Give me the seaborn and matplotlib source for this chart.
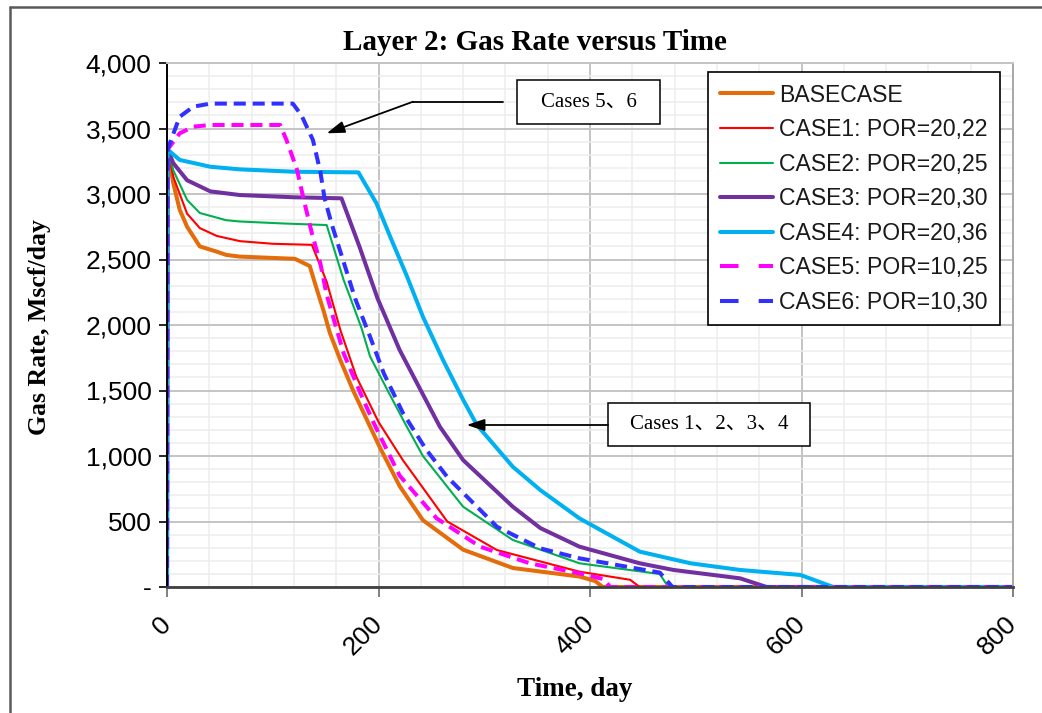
import matplotlib
matplotlib.use("Agg")
import matplotlib.pyplot as plt
from matplotlib.ticker import MultipleLocator, FuncFormatter
from matplotlib.lines import Line2D
from matplotlib.patches import Rectangle
import seaborn as sns

# ---- production data: time (day) and gas rate (Mscf/day) per case ----
t_base = [0, 0.5, 6, 12, 19, 31, 47, 56, 69, 100, 121, 135, 141, 148, 154, 164, 176, 192, 201,
          220, 242, 280, 327, 390, 405, 412, 800]
q_base = [0, 3340, 3080, 2880, 2750, 2600, 2560, 2535, 2522, 2512, 2505, 2450, 2290, 2110, 1940,
          1730, 1500, 1225, 1070, 770, 510, 285, 145, 80, 45, 0, 0]

t_case1 = [0, 0.5, 6, 19, 31, 47, 69, 100, 137, 151, 164, 179, 200, 223, 265, 312, 390,
           438, 447, 800]
q_case1 = [0, 3340, 3130, 2850, 2740, 2680, 2640, 2620, 2612, 2330, 1960, 1606, 1260,
           969, 500, 282, 117, 55, 0, 0]

t_case2 = [0, 0.5, 6, 19, 31, 56, 69, 110, 151, 167, 173, 184, 192, 208, 225, 242, 280, 327,
           390, 466, 474, 800]
q_case2 = [0, 3340, 3180, 2955, 2855, 2800, 2790, 2775, 2763, 2344, 2216, 1975, 1760, 1510,
           1250, 1000, 613, 359, 181, 99, 0, 0]

t_case3 = [0, 0.5, 6, 19, 41, 69, 120, 165, 182, 199, 220, 242, 258, 280, 327, 353, 390, 447,
           479, 542, 567, 800]
q_case3 = [0, 3340, 3235, 3105, 3020, 2992, 2975, 2967, 2598, 2205, 1809, 1470, 1224, 969,
           613, 450, 308, 181, 130, 66, 0, 0]

t_case4 = [0, 0.5, 12, 41, 69, 120, 181, 198, 211, 227, 242, 261, 280, 293, 327, 353, 390,
           447, 495, 542, 599, 630, 800]
q_case4 = [0, 3340, 3260, 3208, 3188, 3170, 3165, 2930, 2675, 2370, 2063, 1733, 1430, 1237,
           918, 740, 524, 270, 181, 130, 92, 0, 0]

t_case5 = [0, 0.5, 12, 25, 41, 107, 113, 123, 129, 137, 145, 151, 167, 183, 195, 201, 220,
           255, 296, 343, 390, 413, 419, 800]
q_case5 = [0, 3340, 3463, 3514, 3527, 3527, 3412, 3183, 2967, 2700, 2471, 2230, 1784, 1478,
           1260, 1160, 850, 524, 308, 181, 104, 60, 0, 0]

t_case6 = [0, 0.5, 12, 25, 41, 119, 127, 138, 145, 149, 156, 178, 192, 205, 223, 245, 265,
           312, 353, 390, 466, 478, 800]
q_case6 = [0, 3340, 3590, 3667, 3690, 3690, 3603, 3412, 3170, 2967, 2763, 2200, 1911, 1631,
           1330, 1050, 840, 460, 295, 219, 110, 0, 0]

labels = ["BASECASE", "CASE1: POR=20,22", "CASE2: POR=20,25", "CASE3: POR=20,30",
          "CASE4: POR=20,36", "CASE5: POR=10,25", "CASE6: POR=10,30"]
x_ticks = [0, 200, 400, 600, 800]
y_ticks = [0, 500, 1000, 1500, 2000, 2500, 3000, 3500, 4000]

series = [(t_base, q_base), (t_case1, q_case1), (t_case2, q_case2), (t_case3, q_case3),
          (t_case4, q_case4), (t_case5, q_case5), (t_case6, q_case6)]
colors = ["#E46C0A", "#FF0000", "#00B050", "#7030A0", "#00B0F0", "#FF00FF", "#3030FF"]
widths = [2.9, 1.5, 1.5, 2.9, 2.9, 2.9, 2.9]
dashed = [False, False, False, False, False, True, True]

sns.set_theme(style="white")
plt.rcParams["font.family"] = ["Liberation Sans", "DejaVu Sans"]

W, H = 1042, 713
fig = plt.figure(figsize=(W / 100, H / 100), dpi=100)
fig.patch.set_facecolor("white")
ax = fig.add_axes([167 / W, 1 - 587 / H, 846 / W, 524 / H])

for (t, q), c, lw, d in zip(series, colors, widths, dashed):
    kw = dict(linestyle=(0, (3.0, 1.7))) if d else dict(linestyle="-")
    sns.lineplot(x=t, y=q, ax=ax, color=c, linewidth=lw, sort=False, estimator=None,
                 legend=False, **kw)

ax.set_xlim(0, 800)
ax.set_ylim(0, 4000)
ax.set_xticks(x_ticks)
ax.set_yticks(y_ticks)
ax.xaxis.set_minor_locator(MultipleLocator(40))
ax.yaxis.set_minor_locator(MultipleLocator(100))
ax.yaxis.set_major_formatter(FuncFormatter(lambda v, p: "-" if v == 0 else f"{v:,.0f}"))
ax.grid(which="major", color="#C4C4C4", linewidth=1.4)
ax.grid(which="minor", color="#EDEDED", linewidth=1.1)
ax.set_axisbelow(True)

ax.tick_params(axis="y", which="major", direction="out", length=6, width=1.2, color="black",
               labelsize=19, pad=5, left=True, labelcolor="black")
ax.tick_params(axis="x", which="major", direction="out", length=7, width=1.4, color="#808080",
               labelsize=19, pad=17, bottom=True, labelcolor="black")
ax.tick_params(which="minor", length=0)
for lab in ax.get_xticklabels():
    lab.set_rotation(45)
    lab.set_ha("right")
    lab.set_va("center")
    lab.set_rotation_mode("anchor")

ax.spines["left"].set_color("black")
ax.spines["left"].set_linewidth(1.4)
ax.spines["bottom"].set_color("#404040")
ax.spines["bottom"].set_linewidth(2.0)
ax.spines["right"].set_color("#A8A8A8")
ax.spines["right"].set_linewidth(1.4)
ax.spines["top"].set_color("#C4C4C4")
ax.spines["top"].set_linewidth(1.4)

serif = ["Liberation Serif", "Noto Sans CJK SC"]
fig.text(535 / W, 1 - 42 / H, "Layer 2: Gas Rate versus Time", ha="center", va="center",
         family=serif, weight="bold", fontsize=21, color="black")
fig.text(40 / W, 1 - 327 / H, "Gas Rate, Mscf/day", ha="center", va="center", rotation=90,
         family=serif, weight="bold", fontsize=18.5, color="black")
fig.text(575 / W, 1 - 690 / H, "Time, day", ha="center", va="center",
         family=serif, weight="bold", fontsize=19.5, color="black")

# legend
handles = []
for c, lw, d in zip(colors, widths, dashed):
    if d:
        handles.append(Line2D([], [], color=c, linewidth=lw, linestyle=(0, (4.6, 5.0))))
    else:
        handles.append(Line2D([], [], color=c, linewidth=lw))
leg = ax.legend(handles, labels, loc="upper left", bbox_to_anchor=(708 / W, 1 - 72 / H),
                bbox_transform=fig.transFigure, borderaxespad=0, frameon=True,
                fancybox=False, fontsize=16.6, handlelength=2.3, handletextpad=0.3,
                labelspacing=0.5, borderpad=0.5)
leg.get_frame().set_edgecolor("black")
leg.get_frame().set_linewidth(1.2)
leg.get_frame().set_alpha(1)
for txt in leg.get_texts():
    txt.set_color("#1a1a1a")


def to_ax(px, py):
    return ((px - 167) / 846, (587 - py) / 524)


# callout boxes with arrows
def callout(box, text, path):
    x0, y0 = to_ax(box[0], box[3])
    x1, y1 = to_ax(box[2], box[1])
    ax.add_patch(Rectangle((x0, y0), x1 - x0, y1 - y0, transform=ax.transAxes,
                           facecolor="white", edgecolor="black", linewidth=1.1, zorder=6))
    ax.text((x0 + x1) / 2, (y0 + y1) / 2, text, transform=ax.transAxes, ha="center",
            va="center", family=serif, fontsize=15, color="black", zorder=7)
    pts = [to_ax(*p) for p in path]
    if len(pts) > 2:
        xs = [p[0] for p in pts[:-1]]
        ys = [p[1] for p in pts[:-1]]
        ax.add_line(Line2D(xs, ys, transform=ax.transAxes, color="black", linewidth=1.3,
                           zorder=6))
    ax.annotate("", xy=pts[-1], xycoords="axes fraction", xytext=pts[-2],
                textcoords="axes fraction",
                arrowprops=dict(arrowstyle="-|>,head_length=0.9,head_width=0.3",
                                color="black", lw=1.3, shrinkA=0, shrinkB=0), zorder=6)


callout((517, 80, 660, 124), "Cases 5、6", [(503, 101.7), (413, 101.7), (326.7, 133.3)])
callout((608, 403, 810, 446), "Cases 1、2、3、4", [(608, 425), (466.7, 425)])

# outer frame of the figure
fig.add_artist(Line2D([10 / W, 10 / W], [0, 1 - 7 / H], transform=fig.transFigure,
                      color="#5A5A5A", linewidth=1.8))
fig.add_artist(Line2D([10 / W, 1], [1 - 7 / H, 1 - 7 / H], transform=fig.transFigure,
                      color="#5A5A5A", linewidth=1.8))

fig.savefig("out.png", dpi=100)
